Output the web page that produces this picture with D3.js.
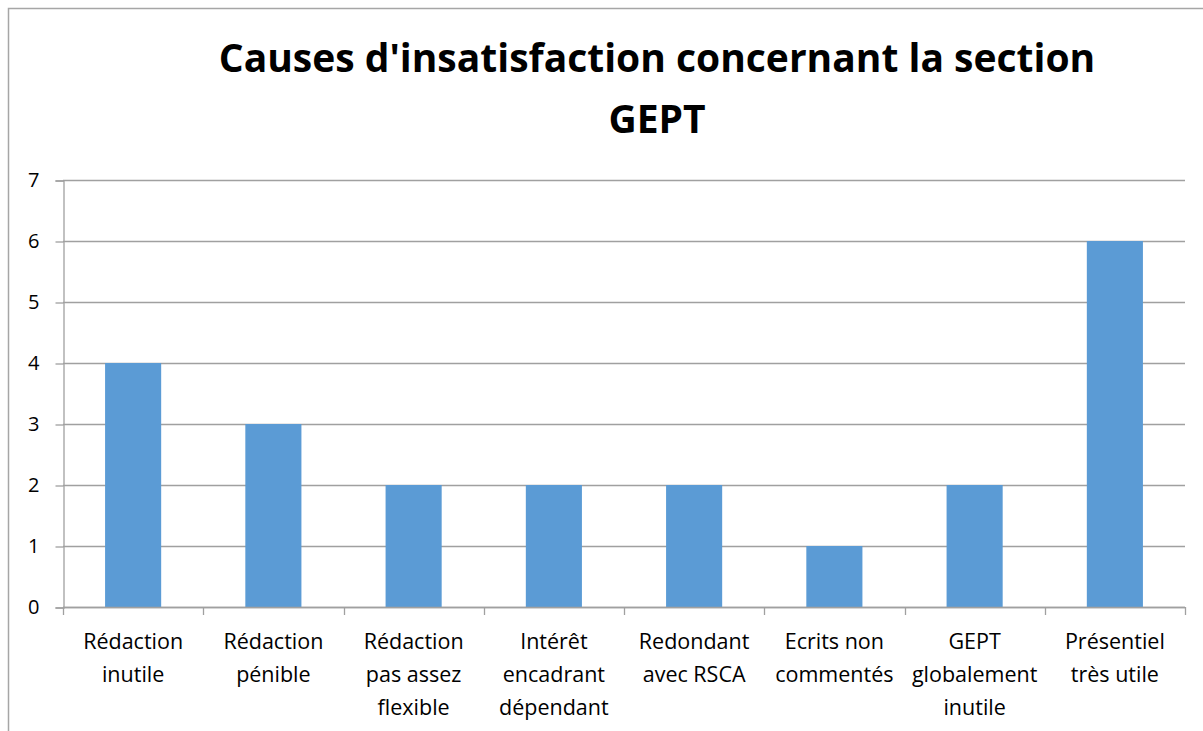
<!DOCTYPE html>
<html>
<head>
<meta charset="utf-8">
<script src="https://cdn.jsdelivr.net/npm/d3@7"></script>
<style>
  html, body { margin: 0; padding: 0; background: #fff; }
  svg { display: block; }
  text { font-family: "Open Sans", "Noto Sans", sans-serif; }
</style>
</head>
<body>
<svg id="chart" width="1203" height="731"></svg>
<script>
// Chart data
const categories = [
  ["Rédaction", "inutile"],
  ["Rédaction", "pénible"],
  ["Rédaction", "pas assez", "flexible"],
  ["Intérêt", "encadrant", "dépendant"],
  ["Redondant", "avec RSCA"],
  ["Ecrits non", "commentés"],
  ["GEPT", "globalement", "inutile"],
  ["Présentiel", "très utile"]
];
const values = [4, 3, 2, 2, 2, 1, 2, 6];
const yTicks = [0, 1, 2, 3, 4, 5, 6, 7];
const titleLines = ["Causes d'insatisfaction concernant la section", "GEPT"];

const svg = d3.select("#chart");
const W = 1203, H = 731;

// Chart frame (left and top edges visible)
svg.append("path")
  .attr("d", `M8.5,${H} V8.5 H${W}`)
  .attr("fill", "none")
  .attr("stroke", "#a6a6a6")
  .attr("stroke-width", 1.5);

const plot = { left: 63, right: 1185, top: 180, bottom: 607 };

const x = d3.scaleBand()
  .domain(categories.map((d, i) => i))
  .range([plot.left, plot.right])
  .paddingInner(0.6)
  .paddingOuter(0.3);

const y = d3.scaleLinear()
  .domain([0, 7])
  .range([plot.bottom, plot.top]);

// Horizontal gridlines
svg.append("g")
  .selectAll("line")
  .data(yTicks)
  .join("line")
  .attr("x1", plot.left)
  .attr("x2", plot.right)
  .attr("y1", d => Math.round(y(d)) + 0.5)
  .attr("y2", d => Math.round(y(d)) + 0.5)
  .attr("stroke", "#a0a0a0")
  .attr("stroke-width", 1.3);

// Bars
svg.append("g")
  .selectAll("rect")
  .data(values)
  .join("rect")
  .attr("x", (d, i) => x(i))
  .attr("width", x.bandwidth())
  .attr("y", d => y(d))
  .attr("height", d => y(0) - y(d))
  .attr("fill", "#5b9bd5");

// Y axis
const yAxis = d3.axisLeft(y)
  .tickValues(yTicks)
  .tickFormat(d3.format("d"))
  .tickSize(8)
  .tickPadding(16);

const gy = svg.append("g")
  .attr("transform", `translate(${plot.left + 0.5},0.5)`)
  .call(yAxis);
gy.select(".domain").attr("stroke", "#a0a0a0").attr("stroke-width", 1.3);
gy.selectAll(".tick line").attr("stroke", "#a0a0a0").attr("stroke-width", 1.3);
gy.selectAll(".tick text")
  .attr("fill", "#000")
  .style("font-size", "20px")
  .style("font-family", "'Open Sans', sans-serif");

// X axis line with tick marks at category boundaries
const boundaries = d3.range(categories.length + 1).map(i => plot.left + i * x.step());
const gx = svg.append("g");
gx.append("line")
  .attr("x1", plot.left).attr("x2", plot.right)
  .attr("y1", Math.round(y(0)) + 0.5).attr("y2", Math.round(y(0)) + 0.5)
  .attr("stroke", "#a0a0a0").attr("stroke-width", 1.3);
gx.selectAll("line.tk")
  .data(boundaries)
  .join("line")
  .attr("class", "tk")
  .attr("x1", d => Math.round(d) + 0.5)
  .attr("x2", d => Math.round(d) + 0.5)
  .attr("y1", y(0))
  .attr("y2", y(0) + 8)
  .attr("stroke", "#a0a0a0")
  .attr("stroke-width", 1.3);

// Category labels
const labels = svg.append("g")
  .selectAll("text")
  .data(categories)
  .join("text")
  .attr("text-anchor", "middle")
  .attr("fill", "#000")
  .style("font-size", "21.5px");
labels.each(function(lines, i) {
  const cx = x(i) + x.bandwidth() / 2;
  d3.select(this).selectAll("tspan")
    .data(lines)
    .join("tspan")
    .attr("x", cx)
    .attr("y", (d, j) => 649 + j * 33)
    .text(d => d);
});

// Title
svg.append("g")
  .selectAll("text")
  .data(titleLines)
  .join("text")
  .attr("x", 657)
  .attr("y", (d, i) => 72 + i * 61)
  .attr("text-anchor", "middle")
  .attr("fill", "#000")
  .style("font-size", "39px")
  .style("font-weight", "bold")
  .text(d => d);
</script>
</body>
</html>
